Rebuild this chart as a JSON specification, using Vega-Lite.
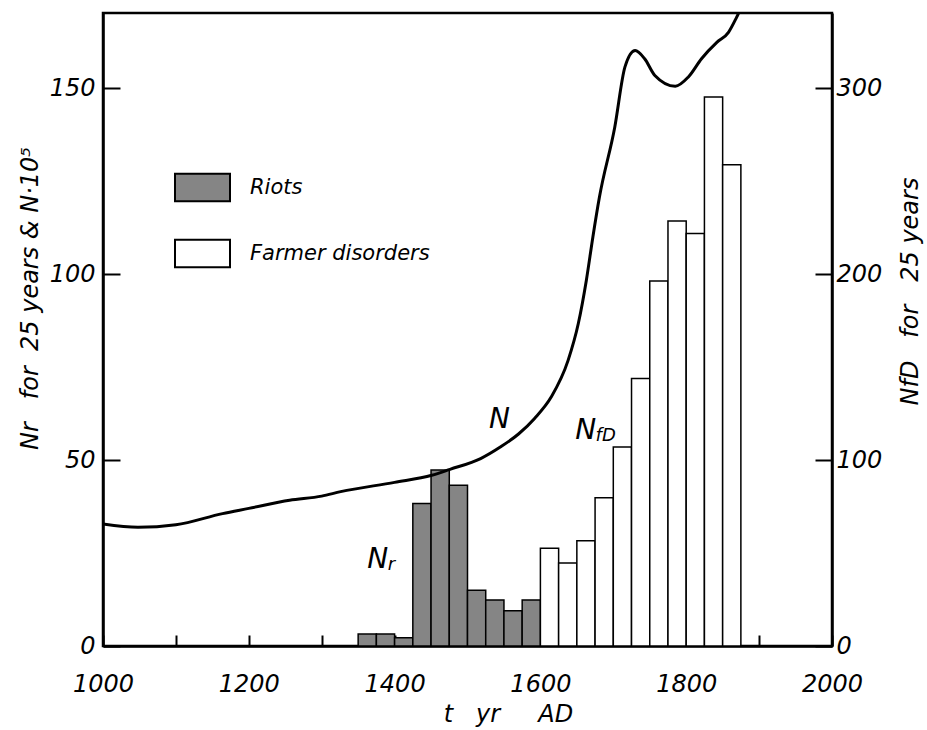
{
  "$schema": "https://vega.github.io/schema/vega-lite/v6.json",
  "width": 729,
  "height": 633,
  "autosize": {"type": "none"},
  "padding": {"left": 103, "top": 13, "right": 95, "bottom": 84},
  "background": "white",
  "config": {
    "view": {"stroke": "black", "strokeWidth": 2.5},
    "font": "DejaVu Sans",
    "axis": {
      "grid": false,
      "domainColor": "black",
      "domainWidth": 2.5,
      "tickColor": "black",
      "tickWidth": 2,
      "labelColor": "black",
      "labelFont": "DejaVu Sans",
      "labelFontStyle": "italic",
      "labelFontSize": 24,
      "labelFlush": false,
      "labelOverlap": false,
      "titleFont": "DejaVu Sans",
      "titleFontStyle": "italic",
      "titleFontWeight": "normal",
      "titleFontSize": 24,
      "titleColor": "black"
    }
  },
  "datasets": {
    "riots": [
      {"start": 1350, "end": 1375, "count": 3.2, "series": "Riots"},
      {"start": 1375, "end": 1400, "count": 3.2, "series": "Riots"},
      {"start": 1400, "end": 1425, "count": 2.2, "series": "Riots"},
      {"start": 1425, "end": 1450, "count": 38.3, "series": "Riots"},
      {"start": 1450, "end": 1475, "count": 47.3, "series": "Riots"},
      {"start": 1475, "end": 1500, "count": 43.2, "series": "Riots"},
      {"start": 1500, "end": 1525, "count": 15, "series": "Riots"},
      {"start": 1525, "end": 1550, "count": 12.4, "series": "Riots"},
      {"start": 1550, "end": 1575, "count": 9.5, "series": "Riots"},
      {"start": 1575, "end": 1600, "count": 12.4, "series": "Riots"}
    ],
    "farmer": [
      {"start": 1600, "end": 1625, "count": 52.5, "series": "Farmer disorders"},
      {"start": 1625, "end": 1650, "count": 44.6, "series": "Farmer disorders"},
      {"start": 1650, "end": 1675, "count": 56.6, "series": "Farmer disorders"},
      {"start": 1675, "end": 1700, "count": 79.7, "series": "Farmer disorders"},
      {"start": 1700, "end": 1725, "count": 107, "series": "Farmer disorders"},
      {"start": 1725, "end": 1750, "count": 143.8, "series": "Farmer disorders"},
      {"start": 1750, "end": 1775, "count": 196.3, "series": "Farmer disorders"},
      {"start": 1775, "end": 1800, "count": 228.5, "series": "Farmer disorders"},
      {"start": 1800, "end": 1825, "count": 221.8, "series": "Farmer disorders"},
      {"start": 1825, "end": 1850, "count": 295.2, "series": "Farmer disorders"},
      {"start": 1850, "end": 1875, "count": 258.8, "series": "Farmer disorders"}
    ],
    "population": [
      {"year": 1000, "n": 32.8},
      {"year": 1048, "n": 31.9},
      {"year": 1100, "n": 32.6},
      {"year": 1164, "n": 35.6},
      {"year": 1200, "n": 37.0},
      {"year": 1256, "n": 39.2},
      {"year": 1300, "n": 40.3},
      {"year": 1326, "n": 41.5},
      {"year": 1400, "n": 44.0},
      {"year": 1451, "n": 45.9},
      {"year": 1476, "n": 47.5},
      {"year": 1518, "n": 50.4},
      {"year": 1545, "n": 53.5},
      {"year": 1570, "n": 57.0},
      {"year": 1592, "n": 61.2},
      {"year": 1615, "n": 67.0},
      {"year": 1638, "n": 76.8},
      {"year": 1652, "n": 86.7},
      {"year": 1663, "n": 98.3},
      {"year": 1672, "n": 110.0},
      {"year": 1681, "n": 120.7},
      {"year": 1702, "n": 139.5},
      {"year": 1716, "n": 155.7},
      {"year": 1730, "n": 160.1},
      {"year": 1743, "n": 157.9},
      {"year": 1757, "n": 153.4},
      {"year": 1785, "n": 150.5},
      {"year": 1803, "n": 153.0},
      {"year": 1821, "n": 157.9},
      {"year": 1842, "n": 162.3},
      {"year": 1858, "n": 165.0},
      {"year": 1867, "n": 168.2},
      {"year": 1873, "n": 170.7},
      {"year": 1880, "n": 175.0}
    ],
    "labels": [
      {"year": 1544, "value": 60.7, "main": "N", "sub": ""},
      {"year": 1377, "value": 23.1, "main": "N", "sub": "r"},
      {"year": 1662, "value": 57.8, "main": "N", "sub": "fD"}
    ]
  },
  "layer": [
    {
      "layer": [
        {
          "data": {"name": "riots"},
          "mark": {"type": "rect", "stroke": "black", "strokeWidth": 1.5},
          "encoding": {
            "x": {
              "field": "start", "type": "quantitative",
              "scale": {"domain": [1000, 2000], "nice": false},
              "axis": {
                "values": [1000, 1100, 1200, 1300, 1400, 1500, 1600, 1700, 1800, 1900, 2000],
                "format": "d",
                "labelExpr": "datum.value % 200 == 0 ? datum.label : ''",
                "tickSize": -11,
                "labelPadding": 37,
                "title": "t\u00a0\u00a0\u00a0yr\u00a0\u00a0\u00a0\u00a0\u00a0AD",
                "titleX": 405,
                "titleY": 68,
                "titleBaseline": "middle"
              }
            },
            "x2": {"field": "end"},
            "y": {
              "field": "count", "type": "quantitative",
              "scale": {"domain": [0, 170.2], "nice": false},
              "axis": {
                "values": [0, 50, 100, 150],
                "tickSize": -17,
                "labelPadding": 25,
                "title": "Nr\u00a0\u00a0\u00a0for\u00a0\u00a025\u00a0years\u00a0&\u00a0N·10⁵",
                "titleAngle": -90,
                "titleX": -73,
                "titleY": 285,
                "titleAlign": "center",
                "titleBaseline": "middle"
              }
            },
            "y2": {"datum": 0},
            "fill": {
              "field": "series", "type": "nominal",
              "scale": {"domain": ["Riots", "Farmer disorders"], "range": ["#858585", "#ffffff"]},
              "legend": {
                "orient": "none",
                "legendX": 71,
                "legendY": 146,
                "title": null,
                "padding": 0,
                "symbolType": "M-1,-0.5H1V0.5H-1Z",
                "symbolSize": 3025,
                "symbolStrokeColor": "black",
                "symbolStrokeWidth": 2,
                "symbolOpacity": 1,
                "rowPadding": 19,
                "labelOffset": 19,
                "labelFont": "DejaVu Sans",
                "labelFontStyle": "italic",
                "labelFontSize": 21,
                "labelColor": "black",
                "labelLimit": 400
              }
            }
          }
        },
        {
          "data": {"name": "population"},
          "mark": {"type": "line", "color": "black", "strokeWidth": 3, "interpolate": "monotone", "clip": true},
          "encoding": {
            "x": {"field": "year", "type": "quantitative"},
            "y": {"field": "n", "type": "quantitative"}
          }
        },
        {
          "data": {"name": "labels"},
          "mark": {"type": "text", "fontSize": 28, "fontStyle": "italic", "color": "black", "align": "center", "baseline": "middle", "font": "DejaVu Sans"},
          "encoding": {
            "x": {"field": "year", "type": "quantitative"},
            "y": {"field": "value", "type": "quantitative"},
            "text": {"field": "main"}
          }
        },
        {
          "data": {"name": "labels"},
          "mark": {"type": "text", "fontSize": 18, "fontStyle": "italic", "color": "black", "align": "left", "baseline": "middle", "dx": 10, "dy": 5, "font": "DejaVu Sans"},
          "encoding": {
            "x": {"field": "year", "type": "quantitative"},
            "y": {"field": "value", "type": "quantitative"},
            "text": {"field": "sub"}
          }
        }
      ]
    },
    {
      "data": {"name": "farmer"},
      "mark": {"type": "rect", "stroke": "black", "strokeWidth": 1.5},
      "encoding": {
        "x": {"field": "start", "type": "quantitative"},
        "x2": {"field": "end"},
        "y": {
          "field": "count", "type": "quantitative",
          "scale": {"domain": [0, 340.4], "nice": false},
          "axis": {
            "orient": "right",
            "values": [0, 100, 200, 300],
            "tickSize": -17,
            "labelPadding": 21,
            "title": "NfD\u00a0\u00a0\u00a0for\u00a0\u00a0\u00a025\u00a0years",
            "titleAngle": -90,
            "titleX": 78,
            "titleY": 278,
            "titleAlign": "center",
            "titleBaseline": "middle"
          }
        },
        "y2": {"datum": 0},
        "fill": {"field": "series", "type": "nominal"}
      }
    }
  ],
  "resolve": {"scale": {"y": "independent"}}
}
